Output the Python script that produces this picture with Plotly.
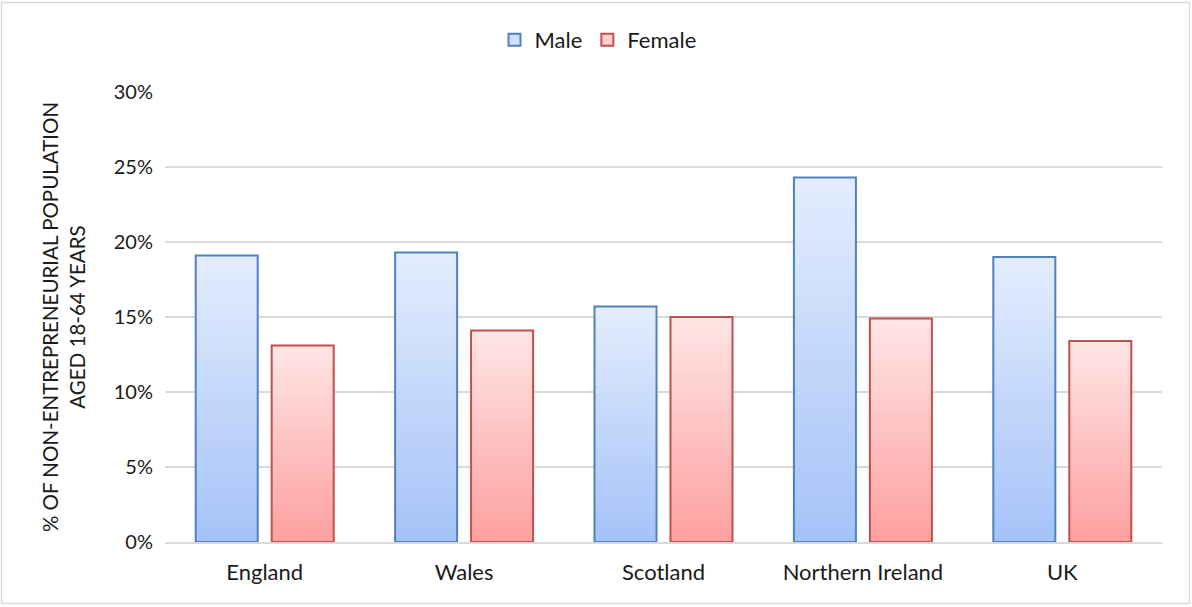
import plotly.graph_objects as go

categories = ["England", "Wales", "Scotland", "Northern Ireland", "UK"]
male = [19.1, 19.3, 15.7, 24.3, 19.0]
female = [13.1, 14.1, 15.0, 14.9, 13.4]
y_ticks = [0, 5, 10, 15, 20, 25, 30]
y_tick_labels = ["0%", "5%", "10%", "15%", "20%", "25%", "30%"]

W, H = 1192, 607
L, R, T, B = 165, 30, 92, 65

FONT = "Lato, 'Open Sans', sans-serif"
N = 24

def lerp(c1, c2, t):
    return "rgb(%d,%d,%d)" % tuple(round(a + (b - a) * t) for a, b in zip(c1, c2))

BW = 0.311
GAP = 0.070
series = [
    ("Male", male, (226, 236, 253), (163, 193, 248), "#4f81bd", -GAP / 2 - BW),
    ("Female", female, (255, 228, 228), (253, 158, 158), "#c0504d", GAP / 2),
]

fig = go.Figure()
for name, vals, top, bot, line, offset in series:
    # gradient layers: full-height lightest first, shorter and darker on top
    for k in range(N, 0, -1):
        t = 1 - k / N
        fig.add_trace(go.Bar(
            x=categories, y=[v * k / N for v in vals],
            offset=offset, width=BW,
            marker=dict(color=lerp(top, bot, t), line=dict(width=0)),
            showlegend=False, hoverinfo="skip",
        ))
    # outline
    fig.add_trace(go.Bar(
        x=categories, y=vals, offset=offset, width=BW, name=name,
        marker=dict(color="rgba(0,0,0,0)", line=dict(color=line, width=2)),
        showlegend=False,
    ))
    # legend entry
    fig.add_trace(go.Bar(
        x=[categories[0]], y=[None], name=name,
        marker=dict(color=lerp(top, bot, 0.3), line=dict(color=line, width=2)),
        showlegend=True,
    ))

pw = W - L - R
ph = H - T - B
fig.add_shape(type="rect", xref="paper", yref="paper",
              x0=(1.5 - L) / pw, x1=(W - 2.5 - L) / pw,
              y0=-(B - 3.5) / ph, y1=1 + (T - 2.5) / ph,
              line=dict(color="#d9d9d9", width=1.5), layer="below")

fig.update_layout(
    width=W, height=H,
    margin=dict(l=L, r=R, t=T, b=B, autoexpand=False),
    barmode="overlay",
    plot_bgcolor="white", paper_bgcolor="white",
    font=dict(family=FONT, size=20, color="#1a1a1a"),
    legend=dict(orientation="h", x=(598 - L) / pw, xanchor="center",
                y=1 + (T - 40) / ph, yanchor="middle", font=dict(size=22),
                traceorder="normal", itemwidth=30),
    xaxis=dict(showgrid=False, showline=True, linecolor="#d9d9d9", linewidth=1.5,
               ticks="", tickfont=dict(size=22), range=[-0.5, 4.5],
               ticklabelstandoff=10, tickangle=0),
    yaxis=dict(range=[0, 30], tickvals=y_ticks, ticktext=y_tick_labels,
               showgrid=True, gridcolor="#d9d9d9", gridwidth=1.5,
               zeroline=False, showline=False, ticks="", ticklen=0,
               tickfont=dict(size=20), ticklabelstandoff=11,
               title=dict(text="% OF NON-ENTREPRENEURIAL POPULATION<br>AGED 18-64 YEARS",
                          font=dict(size=20.5), standoff=22)),
)

fig.write_html("out.html", config={"displayModeBar": False},
               post_script="document.body.style.margin='0';document.body.style.overflow='hidden';")
